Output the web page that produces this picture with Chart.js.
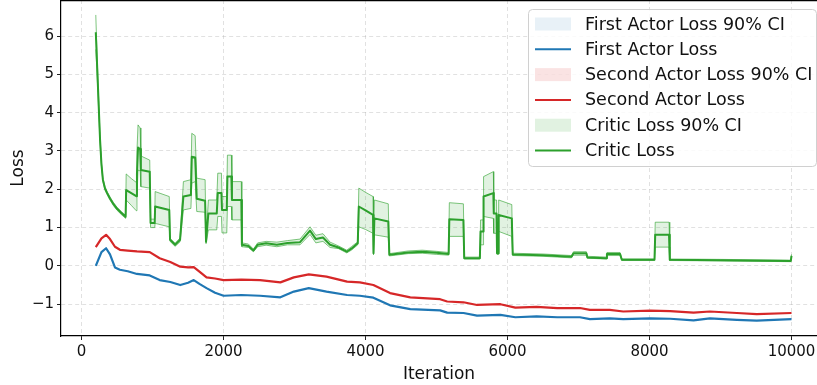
<!DOCTYPE html>
<html>
<head>
<meta charset="utf-8">
<script src="https://cdn.jsdelivr.net/npm/chart.js@4.4.0/dist/chart.umd.min.js"></script>
<style>
    html, body { margin: 0; padding: 0; background: #fff; overflow: hidden; }
    #wrap { position: relative; width: 817px; height: 385px; }
</style>
</head>
<body>
<div id="wrap"><canvas id="lossChart" width="817" height="385"></canvas></div>
<script>
// actor losses, sampled on a shared set of iterations
const actorIters = [200, 280, 345, 400, 470, 540, 650, 780, 960, 1100, 1250, 1390, 1500, 1580, 1660, 1760, 1880, 2000,
    2250, 2514, 2800, 2990, 3200, 3450, 3740, 3920, 4110, 4345, 4630, 5050, 5150, 5380, 5570, 5900, 6110, 6410,
    6700, 7020, 7160, 7440, 7630, 8010, 8290, 8620, 8850, 9230, 9510, 10000];
const firstActorLoss = [0.00, 0.36, 0.46, 0.30, -0.04, -0.10, -0.14, -0.21, -0.25, -0.37, -0.42, -0.50, -0.44, -0.37, -0.47, -0.58, -0.70, -0.78,
    -0.76, -0.78, -0.82, -0.67, -0.58, -0.67, -0.76, -0.78, -0.83, -1.03, -1.13, -1.16, -1.22, -1.23, -1.30, -1.28, -1.34, -1.32,
    -1.34, -1.34, -1.39, -1.37, -1.39, -1.37, -1.38, -1.42, -1.37, -1.41, -1.43, -1.39];
const secondActorLoss = [0.49, 0.72, 0.81, 0.70, 0.50, 0.42, 0.40, 0.38, 0.36, 0.20, 0.10, -0.02, -0.04, -0.03, -0.15, -0.30, -0.33, -0.37,
    -0.36, -0.37, -0.43, -0.30, -0.22, -0.28, -0.41, -0.43, -0.50, -0.71, -0.82, -0.87, -0.93, -0.95, -1.02, -1.00, -1.09, -1.07,
    -1.10, -1.10, -1.15, -1.15, -1.19, -1.17, -1.18, -1.22, -1.19, -1.23, -1.26, -1.23];

// critic loss with its 90% interval (step-like, so iterations are denser around jumps)
const criticIters = [200, 215, 230, 245, 260, 280, 300, 330, 360, 400, 450, 500, 560, 620, 628, 700, 770, 780, 795, 825, 835, 960,
    972, 1030, 1036, 1235, 1246, 1317, 1387, 1434, 1540, 1552, 1600, 1622, 1740, 1753, 1786, 1904, 1918, 1970, 1978, 2045,
    2054, 2110, 2118, 2250, 2258, 2350, 2420, 2480, 2600, 2750, 2900, 3077, 3218, 3300, 3400, 3500, 3620, 3735, 3800, 3890,
    3905, 4000, 4105, 4112, 4124, 4320, 4335, 4600, 4800, 5000, 5170, 5180, 5378, 5390, 5610, 5620, 5655, 5662, 5800, 5806,
    5845, 5852, 5868, 5875, 6060, 6073, 6500, 6900, 6930, 7110, 7125, 7390, 7400, 7585, 7610, 8070, 8080, 8275, 8285, 9000,
    9990, 10000];
const criticLoss = [6.10, 5.40, 4.70, 4.00, 3.30, 2.65, 2.25, 2.02, 1.90, 1.76, 1.61, 1.49, 1.38, 1.28, 1.98, 1.90, 1.82, 2.40, 3.09, 3.05, 2.50, 2.46,
    1.12, 1.12, 1.55, 1.46, 0.68, 0.55, 0.68, 1.81, 1.85, 2.85, 2.83, 1.75, 1.70, 0.63, 1.37, 1.37, 1.90, 1.90, 1.46, 1.46,
    2.33, 2.33, 1.72, 1.72, 0.55, 0.52, 0.40, 0.55, 0.59, 0.55, 0.60, 0.62, 0.92, 0.70, 0.74, 0.55, 0.48, 0.37, 0.45, 0.59,
    1.55, 1.45, 1.33, 0.33, 1.24, 1.16, 0.29, 0.35, 0.37, 0.34, 0.31, 1.22, 1.20, 0.20, 0.20, 0.90, 0.90, 1.81, 1.90, 1.37,
    1.37, 0.33, 0.33, 1.33, 1.24, 0.30, 0.28, 0.24, 0.33, 0.33, 0.22, 0.20, 0.31, 0.31, 0.16, 0.16, 0.81, 0.81, 0.16, 0.15,
    0.13, 0.26];
const criticLow = [5.65, 5.15, 4.52, 3.88, 3.22, 2.60, 2.21, 1.98, 1.86, 1.72, 1.57, 1.45, 1.34, 1.24, 1.72, 1.58, 1.44, 1.80, 2.50, 2.48, 2.07, 2.03,
    1.00, 1.00, 1.11, 1.02, 0.64, 0.51, 0.63, 1.46, 1.50, 2.16, 2.20, 1.42, 1.40, 0.58, 0.94, 0.94, 1.29, 1.29, 0.86, 0.86,
    1.55, 1.55, 1.20, 1.20, 0.50, 0.48, 0.37, 0.50, 0.54, 0.50, 0.55, 0.55, 0.82, 0.60, 0.64, 0.48, 0.45, 0.34, 0.41, 0.55,
    1.02, 0.95, 0.85, 0.30, 0.81, 0.75, 0.26, 0.32, 0.33, 0.30, 0.28, 0.77, 0.77, 0.18, 0.18, 0.55, 0.55, 1.29, 1.24, 0.85,
    0.85, 0.30, 0.30, 0.90, 0.77, 0.27, 0.25, 0.21, 0.28, 0.28, 0.20, 0.18, 0.27, 0.27, 0.14, 0.14, 0.49, 0.49, 0.14, 0.13,
    0.11, 0.22];
const criticHigh = [6.55, 5.65, 4.88, 4.12, 3.38, 2.70, 2.29, 2.06, 1.94, 1.80, 1.65, 1.53, 1.42, 1.32, 2.40, 2.28, 2.18, 3.00, 3.68, 3.60, 2.87, 2.76,
    1.22, 1.22, 1.94, 1.81, 0.72, 0.59, 0.73, 2.20, 2.25, 3.46, 3.40, 2.29, 2.25, 0.68, 1.72, 1.72, 2.42, 2.42, 1.81, 1.81,
    2.89, 2.89, 2.20, 2.20, 0.60, 0.57, 0.44, 0.60, 0.64, 0.62, 0.66, 0.70, 1.02, 0.80, 0.84, 0.62, 0.52, 0.41, 0.50, 0.63,
    2.03, 1.92, 1.81, 0.36, 1.72, 1.62, 0.32, 0.39, 0.41, 0.38, 0.35, 1.65, 1.62, 0.23, 0.23, 1.20, 1.20, 2.33, 2.46, 1.72,
    1.72, 0.36, 0.36, 1.72, 1.60, 0.33, 0.31, 0.27, 0.37, 0.37, 0.25, 0.23, 0.35, 0.35, 0.18, 0.18, 1.14, 1.14, 0.18, 0.17,
    0.15, 0.30];

const xTicks = [0, 2000, 4000, 6000, 8000, 10000];
const yTicks = [-1, 0, 1, 2, 3, 4, 5, 6];

const legendLabels = ['First Actor Loss 90% CI', 'First Actor Loss', 'Second Actor Loss 90% CI',
    'Second Actor Loss', 'Critic Loss 90% CI', 'Critic Loss'];

const BLUE = '#1f77b4';
const RED = '#d62728';
const GREEN = '#2ca02c';
const FONT = "'DejaVu Sans', sans-serif";

function toPoints(xs, ys) {
    return xs.map((x, i) => ({ x: x, y: ys[i] }));
}

// legend handles: patch for the intervals, line for the means
const legendHandles = [
    { kind: 'patch', color: 'rgba(31,119,180,0.1)' },
    { kind: 'line', color: BLUE },
    { kind: 'patch', color: 'rgba(214,39,40,0.13)' },
    { kind: 'line', color: RED },
    { kind: 'patch', color: 'rgba(44,160,44,0.14)' },
    { kind: 'line', color: GREEN }
];

const framePlugin = {
    id: 'frame',
    afterDraw(chart) {
        const { ctx, chartArea } = chart;
        ctx.save();
        ctx.strokeStyle = '#000';
        ctx.lineWidth = 1.2;
        ctx.beginPath();
        ctx.moveTo(chartArea.left, chartArea.top + 0.6);
        ctx.lineTo(chartArea.right, chartArea.top + 0.6);
        ctx.stroke();

        // legend box in the upper right corner
        const bx = 528.5, by = 9.5, bw = 288, bh = 157, r = 4;
        ctx.beginPath();
        ctx.moveTo(bx + r, by);
        ctx.lineTo(bx + bw - r, by);
        ctx.arcTo(bx + bw, by, bx + bw, by + r, r);
        ctx.lineTo(bx + bw, by + bh - r);
        ctx.arcTo(bx + bw, by + bh, bx + bw - r, by + bh, r);
        ctx.lineTo(bx + r, by + bh);
        ctx.arcTo(bx, by + bh, bx, by + bh - r, r);
        ctx.lineTo(bx, by + r);
        ctx.arcTo(bx, by, bx + r, by, r);
        ctx.closePath();
        ctx.fillStyle = 'rgba(255,255,255,0.85)';
        ctx.fill();
        ctx.strokeStyle = '#d0d0d0';
        ctx.lineWidth = 1;
        ctx.stroke();

        ctx.font = '17.5px ' + FONT;
        ctx.textBaseline = 'middle';
        ctx.textAlign = 'left';
        legendLabels.forEach((label, i) => {
            const cy = 24 + i * 25.3;
            const h = legendHandles[i];
            if (h.kind === 'patch') {
                ctx.fillStyle = h.color;
                ctx.fillRect(535, cy - 6.5, 36, 13);
            } else {
                ctx.strokeStyle = h.color;
                ctx.lineWidth = 2;
                ctx.beginPath();
                ctx.moveTo(535, cy);
                ctx.lineTo(571, cy);
                ctx.stroke();
            }
            ctx.fillStyle = '#111';
            ctx.fillText(label, 585, cy + 1);
        });
        ctx.restore();
    }
};

const ctx = document.getElementById('lossChart').getContext('2d');
new Chart(ctx, {
    type: 'line',
    data: {
        datasets: [
            {
                label: 'First Actor Loss',
                data: toPoints(actorIters, firstActorLoss),
                borderColor: BLUE,
                borderWidth: 2.2,
                order: 4
            },
            {
                label: 'Second Actor Loss',
                data: toPoints(actorIters, secondActorLoss),
                borderColor: RED,
                borderWidth: 2.2,
                order: 3
            },
            {
                label: 'Critic Loss lower',
                data: toPoints(criticIters, criticLow),
                borderColor: 'rgba(44,160,44,0.6)',
                borderWidth: 1,
                fill: false,
                order: 2
            },
            {
                label: 'Critic Loss 90% CI',
                data: toPoints(criticIters, criticHigh),
                borderColor: 'rgba(44,160,44,0.6)',
                backgroundColor: 'rgba(44,160,44,0.14)',
                borderWidth: 1,
                fill: '-1',
                order: 1
            },
            {
                label: 'Critic Loss',
                data: toPoints(criticIters, criticLoss),
                borderColor: GREEN,
                borderWidth: 2,
                order: 0
            }
        ]
    },
    options: {
        responsive: false,
        animation: false,
        devicePixelRatio: 1,
        layout: { padding: 0 },
        elements: {
            point: { radius: 0, hoverRadius: 0 },
            line: { tension: 0, borderJoinStyle: 'round', fill: false }
        },
        plugins: {
            legend: { display: false },
            tooltip: { enabled: false }
        },
        scales: {
            x: {
                type: 'linear',
                min: -290,
                max: 10359,
                afterBuildTicks: (scale) => { scale.ticks = xTicks.map(v => ({ value: v })); },
                afterFit: (scale) => { scale.height = 49; scale.paddingLeft = 0; scale.paddingRight = 0; },
                ticks: {
                    font: { family: FONT, size: 15 },
                    color: '#111',
                    padding: 3,
                    maxRotation: 0,
                    callback: (v) => String(v)
                },
                grid: { color: 'rgba(170,170,170,0.35)', tickColor: '#222', tickLength: 4, lineWidth: 1, tickBorderDash: [] },
                border: { color: '#000', width: 1.2, dash: [4, 3] },
                title: { display: true, text: 'Iteration', font: { family: FONT, size: 17 }, color: '#111', padding: { top: 6, bottom: 0 } }
            },
            y: {
                type: 'linear',
                min: -1.83,
                max: 6.94,
                afterBuildTicks: (scale) => { scale.ticks = yTicks.map(v => ({ value: v })); },
                afterFit: (scale) => { scale.width = 61; scale.paddingTop = 0; scale.paddingBottom = 0; },
                ticks: {
                    font: { family: FONT, size: 15 },
                    color: '#111',
                    padding: 3,
                    callback: (v) => (v < 0 ? '\u2212' + Math.abs(v) : String(v))
                },
                grid: { color: 'rgba(170,170,170,0.35)', tickColor: '#222', tickLength: 4, lineWidth: 1, tickBorderDash: [] },
                border: { color: '#000', width: 1.2, dash: [4, 3] },
                title: { display: true, text: 'Loss', font: { family: FONT, size: 17 }, color: '#111', padding: { top: 8, bottom: 0 } }
            }
        }
    },
    plugins: [framePlugin]
});
</script>
</body>
</html>
